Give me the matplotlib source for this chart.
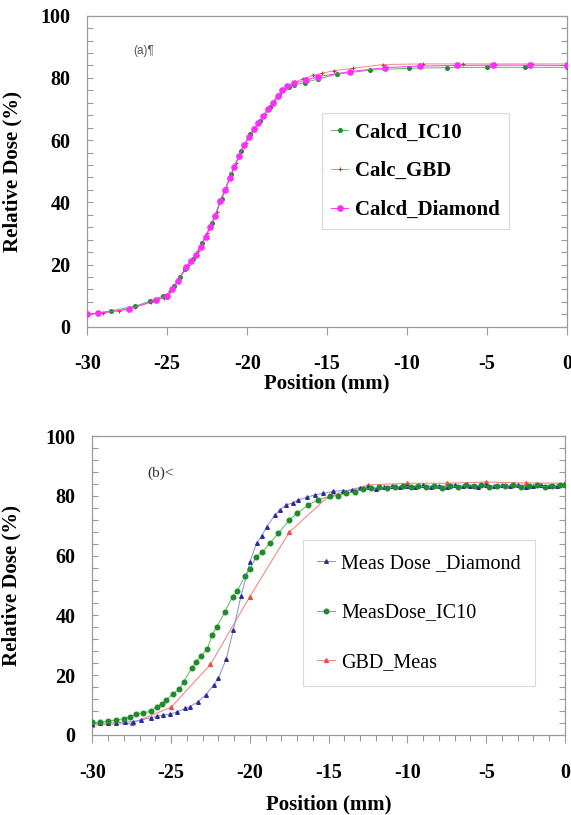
import matplotlib
matplotlib.use("Agg")
import matplotlib.pyplot as plt
from matplotlib.ticker import MultipleLocator, AutoMinorLocator

plt.rcParams["axes.unicode_minus"] = False

# ---------------- data: panel (a) ----------------
calcd_ic10_x = [-30, -28.5, -27.0, -26.1, -25.25, -25.0, -24.6, -24.2, -23.9, -23.4, -22.8,
                -22.2, -21.6, -21.0, -20.4, -19.8, -19.2, -18.6, -18.0, -17.4, -17.1, -16.4,
                -15.6, -14.4, -12.3, -9.9, -7.5, -5.0, -2.6, 0.0]
calcd_ic10_y = [4.0, 5.1, 6.6, 8.2, 9.9, 9.6, 13.0, 16.0, 18.5, 21.8, 27.0,
                33.5, 41.0, 49.0, 56.5, 62.0, 66.0, 70.5, 74.5, 77.2, 77.7, 78.5,
                79.6, 81.2, 82.5, 83.1, 83.3, 83.4, 83.4, 83.4]

calc_gbd_x = [-30, -29, -28, -27, -26, -25.2, -24.8, -24.3, -23.7, -23.1, -22.5, -21.9,
              -21.3, -20.7, -20.1, -19.5, -18.9, -18.3, -17.7, -17.1, -16.5, -15.9, -15.3,
              -14.6, -13.4, -11.5, -9.0, -6.5, -4.5, -2.2, 0]
calc_gbd_y = [4.0, 4.5, 5.2, 6.3, 7.8, 9.3, 11.5, 15.0, 19.8, 24.2, 30.0, 37.0,
              45.0, 52.5, 59.0, 64.0, 68.5, 72.5, 76.0, 78.5, 79.8, 80.8, 81.5,
              82.3, 83.1, 84.3, 84.5, 84.5, 84.5, 84.5, 84.5]

calcd_diamond_x = [-30, -29.3, -27.4, -25.7, -25.0, -24.7, -24.3, -23.8, -23.5, -23.2, -22.9,
                   -22.6, -22.3, -22.0, -21.7, -21.4, -21.1, -20.8, -20.5, -20.2, -19.9,
                   -19.6, -19.3, -19.0, -18.7, -18.4, -18.1, -17.8, -17.5, -17.1, -16.3,
                   -15.6, -13.6, -11.4, -9.2, -6.9, -4.6, -2.3, 0.0]
calcd_diamond_y = [4.0, 4.3, 5.6, 8.6, 10.0, 12.0, 14.8, 19.3, 21.0, 23.0, 25.6,
                   29.0, 32.0, 35.5, 40.5, 44.0, 47.8, 51.5, 55.0, 58.3, 61.0,
                   63.5, 65.5, 67.8, 70.0, 72.0, 74.2, 76.0, 77.3, 78.3, 79.3,
                   80.4, 82.0, 83.3, 83.8, 84.0, 84.1, 84.1, 84.0]

# ---------------- data: panel (b) ----------------
meas_diamond_x = [-30.0, -29.5, -29.0, -28.5, -27.9, -27.4, -26.9, -26.3, -25.9, -25.5, -25.1,
                  -24.6, -24.1, -23.8, -23.3, -22.8, -22.3, -22.0, -21.5, -21.05, -20.56,
                  -20.0, -19.57, -19.25, -18.93, -18.4, -18.1, -17.7, -17.25, -16.93, -16.4,
                  -15.87, -15.34, -14.7, -14.1, -13.5, -13.0, -12.5, -12.0, -11.5, -11.0,
                  -10.5, -10.0, -9.5, -9.0, -8.5, -8.0, -7.5, -7.0, -6.5, -6.0, -5.5, -5.0,
                  -4.5, -4.0, -3.5, -3.0, -2.5, -2.0, -1.5, -1.0, -0.5, 0.0]
meas_diamond_y = [3.7, 3.9, 4.0, 4.1, 4.3, 4.5, 5.0, 5.8, 6.2, 6.7, 6.9,
                  7.8, 8.9, 9.5, 11.1, 13.4, 16.7, 19.0, 25.4, 35.1, 46.5,
                  57.8, 64.3, 66.6, 69.7, 73.6, 75.3, 76.9, 77.7, 78.6, 79.5,
                  80.3, 80.8, 81.5, 81.7, 82.0, 82.5, 83.0, 82.4, 82.8, 83.2,
                  82.9, 83.3, 83.0, 83.5, 83.1, 83.4, 83.0, 83.6, 83.2, 83.4, 83.1, 83.7,
                  83.2, 83.5, 83.3, 83.6, 83.0, 83.4, 83.5, 83.2, 83.4, 83.5]

meas_ic10_x = [-30.0, -29.5, -29.0, -28.5, -28.0, -27.6, -27.2, -26.8, -26.3, -25.9, -25.6,
               -25.3, -24.9, -24.5, -24.2, -23.7, -23.4, -23.1, -22.7, -22.4, -22.1, -21.6,
               -21.1, -20.8, -20.3, -20.0, -19.6, -19.2, -18.7, -18.2, -17.5, -17.0, -16.3,
               -15.7, -14.9, -14.4, -13.9, -13.3, -12.8, -12.3, -11.8, -11.3, -10.8, -10.3,
               -9.8, -9.3, -8.8, -8.3, -7.8, -7.3, -6.8, -6.3, -5.8, -5.3, -4.8, -4.3,
               -3.8, -3.3, -2.8, -2.3, -1.8, -1.3, -0.8, -0.3, 0.0]
meas_ic10_y = [4.2, 4.3, 4.7, 5.0, 5.5, 6.1, 7.0, 7.3, 8.0, 9.5, 10.4,
               11.7, 13.7, 15.3, 17.8, 22.3, 24.5, 26.4, 28.7, 33.4, 36.2, 41.0,
               46.3, 48.2, 53.3, 55.5, 59.6, 61.3, 64.3, 67.4, 71.9, 74.1, 76.9,
               78.6, 79.9, 80.1, 80.8, 81.4, 82.2, 82.5, 82.8, 82.6, 83.0, 83.3,
               82.8, 83.2, 83.0, 83.4, 82.7, 83.3, 83.1, 83.5, 83.2, 83.6, 83.0, 83.4,
               83.2, 83.6, 83.1, 83.3, 83.5, 83.0, 83.4, 83.5, 83.6]

gbd_meas_x = [-30, -27.5, -25, -22.5, -20, -17.5, -15, -12.5, -10, -7.5, -5, -2.5, 0]
gbd_meas_y = [3.3, 3.9, 9.3, 23.6, 46.3, 67.8, 79.9, 83.6, 84.2, 84.2, 84.6, 84.3, 84.2]

x_ticks = [-30, -25, -20, -15, -10, -5, 0]
y_ticks = [0, 20, 40, 60, 80, 100]

# ---------------- styling ----------------
SERIF = ["Liberation Serif", "DejaVu Serif"]
GREEN = "#1e8c2a"
GREEN_L = "#5cb864"
MAGENTA = "#ff2eff"
RED = "#e8504a"
RED_L = "#f08a84"
BLUE = "#2c2c9c"
BLUE_L = "#8a8ad8"
SPINE = "#9a9a9a"

fig = plt.figure(figsize=(5.71, 8.15), dpi=100)
W, H = 571, 815


def frame(ax, minor_x):
    for s in ax.spines.values():
        s.set_color(SPINE)
        s.set_linewidth(0.9)
    ax.set_xlim(-30, 0)
    ax.set_ylim(0, 100)
    ax.set_xticks(x_ticks)
    ax.set_yticks(y_ticks)
    ax.yaxis.set_minor_locator(AutoMinorLocator(5))
    if minor_x:
        ax.xaxis.set_minor_locator(MultipleLocator(1))
    ax.tick_params(axis="y", which="both", direction="in", left=True, right=True,
                   length=4, width=0.8, color=SPINE, pad=12)
    ax.tick_params(axis="x", which="major", direction="out", length=6, width=0.8,
                   color=SPINE, pad=14)
    ax.tick_params(axis="x", which="minor", direction="out", length=4, width=0.8,
                   color=SPINE)
    for lab in ax.get_xticklabels() + ax.get_yticklabels():
        lab.set_fontfamily(SERIF)
        lab.set_fontweight("bold")
        lab.set_fontsize(14.5)
    ax.set_xlabel("Position (mm)", family=SERIF, weight="bold", fontsize=15)
    ax.set_ylabel("Relative Dose (%)", family=SERIF, weight="bold", fontsize=15)


# ---- panel (a)
ax1 = fig.add_axes([87.3 / W, 1 - 326.7 / H, 479.7 / W, 311 / H])
ax1.plot(calcd_ic10_x, calcd_ic10_y, color=GREEN_L, lw=0.7, marker="o", ms=2.6,
         mfc=GREEN, mec=GREEN, label="Calcd_IC10", zorder=3)
ax1.plot(calc_gbd_x, calc_gbd_y, color=RED_L, lw=0.7, marker="+", ms=3, mew=0.8,
         mec="#b04040", label="Calc_GBD", zorder=2)
ax1.plot(calcd_diamond_x, calcd_diamond_y, color=MAGENTA, lw=0.7, marker="o", ms=3.8,
         mfc=MAGENTA, mec=MAGENTA, label="Calcd_Diamond", zorder=4)
frame(ax1, minor_x=False)
ax1.xaxis.set_label_coords(0.5, -0.15)
ax1.yaxis.set_label_coords(-0.136, 0.5)
ax1.text(0.095, 0.886, "(a)\u00b6", transform=ax1.transAxes, fontsize=8.5, va="center",
         color="#555555", family=["Liberation Sans", "DejaVu Sans"])
leg1 = ax1.legend(loc="upper left", bbox_to_anchor=(0.489, 0.687),
                  prop={"family": SERIF, "weight": "bold", "size": 15},
                  frameon=True, fancybox=False, edgecolor="#d0d0d0",
                  handlelength=0.8, handletextpad=0.35, labelspacing=0.9,
                  borderpad=0.45, borderaxespad=0.0, markerscale=1.0)
leg1.get_frame().set_linewidth(0.8)

# ---- panel (b)
ax2 = fig.add_axes([92.3 / W, 1 - 735 / H, 472.7 / W, 299 / H])
ax2.plot(meas_diamond_x, meas_diamond_y, color=BLUE_L, lw=0.7, marker="^", ms=2.6,
         mfc=BLUE, mec=BLUE, label="Meas Dose _Diamond", zorder=3)
ax2.plot(meas_ic10_x, meas_ic10_y, color=GREEN_L, lw=0.7, marker="o", ms=3.3,
         mfc=GREEN, mec=GREEN, label="MeasDose_IC10", zorder=4)
ax2.plot(gbd_meas_x, gbd_meas_y, color=RED_L, lw=0.8, marker="^", ms=2.8,
         mfc=RED, mec=RED, label="GBD_Meas", zorder=2)
frame(ax2, minor_x=True)
ax2.xaxis.set_label_coords(0.5, -0.2)
ax2.yaxis.set_label_coords(-0.149, 0.5)
ax2.text(0.116, 0.876, "(b)\u02c2", transform=ax2.transAxes, fontsize=11, va="center",
         color="#333333", family=SERIF)
leg2 = ax2.legend(loc="upper left", bbox_to_anchor=(0.446, 0.652),
                  prop={"family": SERIF, "size": 14.5},
                  frameon=True, fancybox=False, edgecolor="#d0d0d0",
                  handlelength=0.9, handletextpad=0.3, labelspacing=1.5,
                  borderpad=0.7, borderaxespad=0.0)
leg2.get_frame().set_linewidth(0.8)

fig.savefig("out.png", dpi=100)
